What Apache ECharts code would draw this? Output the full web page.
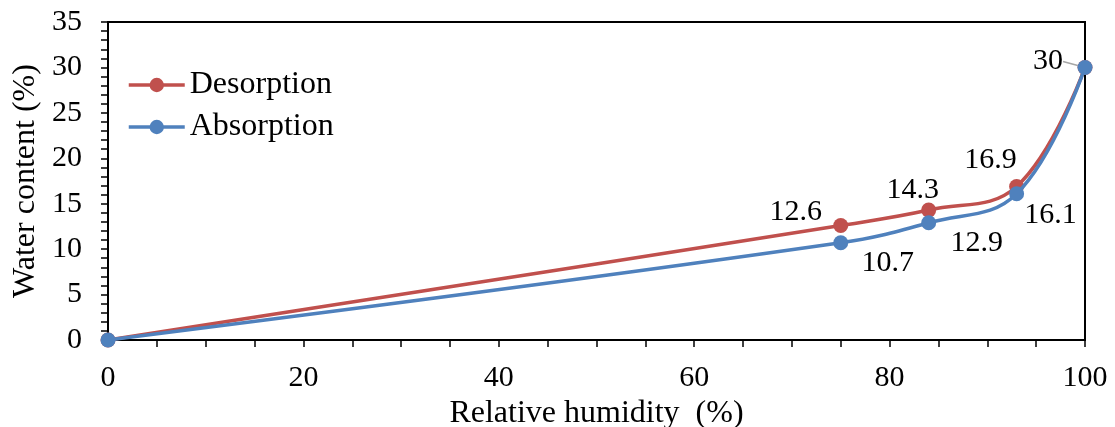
<!DOCTYPE html>
<html>
<head>
<meta charset="utf-8">
<script src="https://cdn.jsdelivr.net/npm/echarts@6/dist/echarts.min.js"></script>
<style>
html,body{margin:0;padding:0;background:#fff;}
#chart{width:1115px;height:427px;}
</style>
</head>
<body>
<div id="chart"></div>
<script>
// ---- data ----
var humidity = [0, 75, 84, 93, 100];
var desorption = [0, 12.6, 14.3, 16.9, 30];
var absorption = [0, 10.7, 12.9, 16.1, 30];
var seriesNames = ['Desorption', 'Absorption'];
var xTicks = [0, 20, 40, 60, 80, 100];
var yTicks = [0, 5, 10, 15, 20, 25, 30, 35];

// ---- styling (label offsets relative to marker) ----
var labelOffsets = [
  [null, [-45, -13], [-16, -20], [-26, -26], null],
  [null, [47, 20], [48, 20], [34, 21], [-37, -6]]
];
var FONT = 'Liberation Serif';

function buildData(values, si) {
  return humidity.map(function (x, i) {
    var item = { value: [x, values[i]] };
    if (!labelOffsets[si][i]) {
      item.label = { show: false };
    }
    if (si === 1 && i === values.length - 1) {
      item.labelLine = { show: true, lineStyle: { color: '#a6a6a6', width: 1.5 } };
    }
    return item;
  });
}

var chart = echarts.init(document.getElementById('chart'), null, { renderer: 'canvas' });
var colors = ['#C0504D', '#4F81BD'];

function mkSeries(name, values, si) {
  return {
    name: name,
    type: 'line',
    data: buildData(values, si),
    smooth: 0.4,
    symbol: 'circle',
    symbolSize: 15,
    lineStyle: { width: 3.5, color: colors[si] },
    itemStyle: { color: colors[si] },
    label: {
      show: true,
      position: 'inside',
      formatter: function (p) { return String(p.value[1]); },
      fontFamily: FONT,
      fontSize: 30,
      color: '#000'
    },
    labelLine: { show: false },
    labelLayout: function (p) {
      var o = labelOffsets[si][p.dataIndex];
      if (!o) return {};
      return { dx: o[0], dy: o[1] };
    },
    z: 2 + si
  };
}

chart.setOption({
  animation: false,
  backgroundColor: '#fff',
  textStyle: { fontFamily: FONT },
  grid: {
    left: 108, right: 30, top: 22, bottom: 87,
    outerBoundsMode: 'none',
    containLabel: false,
    show: true, borderColor: '#000', borderWidth: 2, backgroundColor: 'transparent'
  },
  legend: {
    orient: 'vertical',
    left: 127, top: 69, padding: 0,
    itemWidth: 56, itemHeight: 18, itemGap: 10,
    lineStyle: { width: 3.5 },
    textStyle: { fontFamily: FONT, fontSize: 32, color: '#000', lineHeight: 32 },
    data: seriesNames
  },
  xAxis: {
    type: 'value',
    min: xTicks[0], max: xTicks[xTicks.length - 1], interval: xTicks[1] - xTicks[0],
    name: 'Relative humidity  (%)',
    nameLocation: 'middle', nameGap: 50,
    nameTextStyle: { fontFamily: FONT, fontSize: 32, color: '#000' },
    axisLine: { show: true, lineStyle: { color: '#000', width: 2 } },
    axisTick: { show: true, length: 7, lineStyle: { color: '#000', width: 1.5 } },
    minorTick: { show: true, splitNumber: 4, length: 7, lineStyle: { color: '#000', width: 1.5 } },
    axisLabel: { fontFamily: FONT, fontSize: 30, color: '#000', margin: 23 },
    splitLine: { show: false }
  },
  yAxis: {
    type: 'value',
    min: yTicks[0], max: yTicks[yTicks.length - 1], interval: yTicks[1] - yTicks[0],
    name: 'Water content (%)',
    nameLocation: 'middle', nameGap: 62, nameRotate: 90,
    nameTextStyle: { fontFamily: FONT, fontSize: 32, color: '#000' },
    axisLine: { show: true, lineStyle: { color: '#000', width: 2 } },
    axisTick: { show: true, length: 7, lineStyle: { color: '#000', width: 1.5 } },
    minorTick: { show: true, splitNumber: 5, length: 7, lineStyle: { color: '#000', width: 1.5 } },
    axisLabel: { fontFamily: FONT, fontSize: 30, color: '#000', margin: 26 },
    splitLine: { show: false }
  },
  series: [
    mkSeries(seriesNames[0], desorption, 0),
    mkSeries(seriesNames[1], absorption, 1)
  ]
});
</script>
</body>
</html>
